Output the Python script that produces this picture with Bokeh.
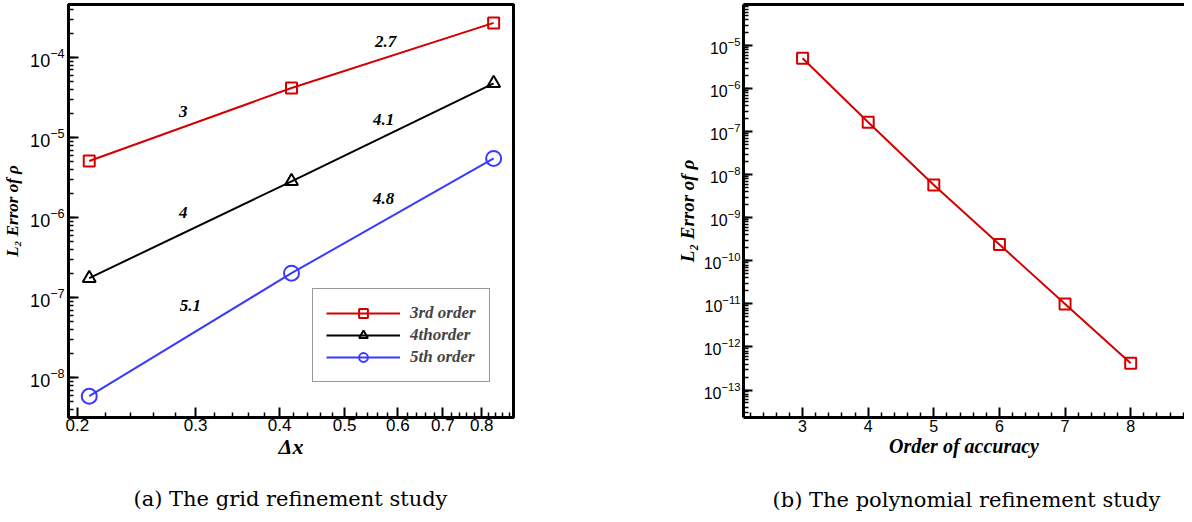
import numpy as np
from bokeh.plotting import figure
from bokeh.models import (Range1d, FixedTicker, LogTicker, PrintfTickFormatter, Legend,
                          LegendItem, LabelSet, ColumnDataSource, Title, LinearAxis)
from bokeh.layouts import row
from bokeh.embed import file_html
from bokeh.resources import INLINE

# ---------------- data ----------------
dx = [0.2083, 0.4167, 0.8333]
err_3rd = [5.1e-6, 4.17e-5, 2.71e-4]
err_4th = [1.76e-7, 2.85e-6, 4.77e-5]
err_5th = [5.9e-9, 2.03e-7, 5.5e-6]
series_names = ["3rd order", "4thorder", "5th order"]
slope_labels = [["3", "2.7"], ["4", "4.1"], ["5.1", "4.8"]]
dx_ticks = [0.2, 0.3, 0.4, 0.5, 0.6, 0.7, 0.8]

orders = [3, 4, 5, 6, 7, 8]
err_order = [5.1e-6, 1.65e-7, 5.8e-9, 2.4e-10, 1.0e-11, 4.2e-13]
order_ticks = [3, 4, 5, 6, 7, 8]

captions = ["(a) The grid refinement study", "(b) The polynomial refinement study"]

# ---------------- styles ----------------
RED = "#d40000"
BLACK = "#000000"
BLUE = "#3a3aff"
SERIF = "Liberation Serif"
CAPFONT = "DejaVu Serif"
SANS = "Liberation Sans"


def style_axis(ax, label_size, tick_len=10, minor_len=5):
    ax.axis_line_width = 3
    ax.axis_line_color = "black"
    ax.major_tick_in = tick_len
    ax.major_tick_out = 0
    ax.minor_tick_in = minor_len
    ax.minor_tick_out = 0
    ax.major_tick_line_width = 2
    ax.minor_tick_line_width = 1.5
    ax.major_tick_line_color = "black"
    ax.minor_tick_line_color = "black"
    ax.major_label_text_font = SANS
    ax.major_label_text_font_size = label_size
    ax.major_label_text_color = "black"
    ax.axis_label_text_font = SERIF
    ax.axis_label_text_font_style = "bold italic"
    ax.axis_label_text_color = "black"


def add_caption(p, text, offset, gap):
    # white spacer title, then the caption itself
    p.add_layout(Title(text=".", text_color="white", standoff=gap, text_font=CAPFONT,
                       text_font_size="14px"), "below")
    p.add_layout(Title(text=text, align="left", offset=offset, standoff=0,
                       text_font=CAPFONT, text_font_style="normal", text_font_size="21px",
                       text_color="black"), "below")


# ================= left panel =================
p1 = figure(frame_width=445, frame_height=413, x_axis_type="log", y_axis_type="log",
            x_range=Range1d(0.194, 0.892), y_range=Range1d(3.2e-9, 4.6e-4),
            output_backend="svg", toolbar_location=None,
            min_border_left=60, min_border_right=155, min_border_top=4,
            min_border_bottom=0)
p1.grid.visible = False
p1.outline_line_color = "black"
p1.outline_line_width = 3
p1.outline_line_alpha = 1.0

minor_dx = [round(0.2 + 0.02 * i, 2) for i in range(0, 35)]
minor_dx = [v for v in minor_dx if v not in dx_ticks]
p1.xaxis.ticker = FixedTicker(ticks=dx_ticks, minor_ticks=minor_dx)
p1.xaxis.formatter = PrintfTickFormatter(format="%.1f")
p1.yaxis.ticker = LogTicker(num_minor_ticks=10)
style_axis(p1.xaxis[0], "17px")
style_axis(p1.yaxis[0], "18px")
p1.xaxis.axis_label = "Δx"
p1.xaxis.axis_label_text_font_size = "22px"
p1.xaxis.axis_label_standoff = 0
p1.xaxis.major_label_standoff = 1
p1.yaxis.axis_label = "L₂ Error of ρ"
p1.yaxis.axis_label_text_font_size = "17px"
p1.yaxis.axis_label_standoff = 5
p1.yaxis.major_label_standoff = 4

series = [(err_3rd, RED, "square", 11), (err_4th, BLACK, "triangle", 13), (err_5th, BLUE, "circle", 15)]
items = []
for (ys, col, mk, sz), name in zip(series, series_names):
    src = ColumnDataSource(dict(x=dx, y=ys))
    ln = p1.line("x", "y", source=src, line_color=col, line_width=2)
    sc = p1.scatter("x", "y", source=src, marker=mk, size=sz, line_color=col,
                    line_width=2, fill_color=None)
    items.append(LegendItem(label=name, renderers=[ln, sc]))

legend = Legend(items=items, location=(244, 35), glyph_width=74, glyph_height=22,
                label_height=22, spacing=0, padding=13, margin=0, label_standoff=10,
                label_text_font=SERIF, label_text_font_style="bold italic",
                label_text_font_size="17px", border_line_color="#333333",
                border_line_width=1, background_fill_color="white")
p1.add_layout(legend, "center")

# slope labels at segment midpoints, with pixel offsets
lx, ly, lt = [], [], []
for ys, labs in zip([err_3rd, err_4th, err_5th], slope_labels):
    for i in range(2):
        lx.append(float(np.sqrt(dx[i] * dx[i + 1])))
        ly.append(float(np.sqrt(ys[i] * ys[i + 1])))
        lt.append(labs[i])
x_off = [-7, -7, -7, -9, 0, -9]
y_off = [13, 14, 17, 13, 29, 17]
lsrc = ColumnDataSource(dict(x=lx, y=ly, text=lt, xo=x_off, yo=y_off))
p1.add_layout(LabelSet(x="x", y="y", text="text", x_offset="xo", y_offset="yo", source=lsrc,
                       text_font=SERIF, text_font_style="bold italic", text_font_size="17px",
                       text_align="center", text_baseline="middle", text_color="black"))

add_caption(p1, captions[0], 65, 10)

# ================= right panel =================
p2 = figure(frame_width=441, frame_height=413, y_axis_type="log",
            x_range=Range1d(2.1, 8.82), y_range=Range1d(2.3e-14, 9.0e-5),
            output_backend="svg", toolbar_location=None,
            min_border_left=75, min_border_right=0, min_border_top=4,
            min_border_bottom=0)
p2.grid.visible = False
p2.outline_line_color = None

minor_ord = [round(2.2 + 0.2 * i, 1) for i in range(0, 34)]
minor_ord = [v for v in minor_ord if v not in order_ticks]
p2.xaxis.ticker = FixedTicker(ticks=order_ticks, minor_ticks=minor_ord)
p2.yaxis.ticker = LogTicker(num_minor_ticks=10)
style_axis(p2.xaxis[0], "16px", tick_len=10, minor_len=5)
style_axis(p2.yaxis[0], "16px", tick_len=9, minor_len=5)
p2.xaxis.axis_label = "Order of accuracy"
p2.xaxis.axis_label_text_font_size = "20px"
p2.xaxis.axis_label_standoff = 0
p2.xaxis.major_label_standoff = 2
p2.yaxis.axis_label = "L₂ Error of ρ"
p2.yaxis.axis_label_text_font_size = "19px"
p2.yaxis.axis_label_standoff = 3
p2.yaxis.major_label_standoff = 3

top_ax = LinearAxis(ticker=FixedTicker(ticks=[]), axis_line_width=3, axis_line_color="black",
                    major_label_text_font_size="0px", major_tick_in=0, major_tick_out=0,
                    minor_tick_in=0, minor_tick_out=0, major_label_standoff=0,
                    axis_label_standoff=0)
p2.add_layout(top_ax, "above")

src2 = ColumnDataSource(dict(x=orders, y=err_order))
p2.line("x", "y", source=src2, line_color=RED, line_width=2)
p2.scatter("x", "y", source=src2, marker="square", size=11, line_color=RED,
           line_width=2, fill_color=None)

add_caption(p2, captions[1], 29, 13)

layout = row(p1, p2)
open("out.html", "w").write(file_html(layout, INLINE))
